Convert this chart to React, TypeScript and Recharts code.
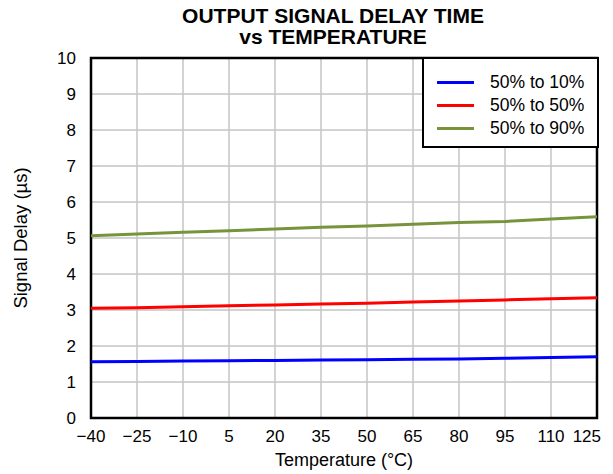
import { LineChart, Line, XAxis, YAxis, CartesianGrid, ReferenceArea } from "recharts";

const temps = [-40, -25, -10, 5, 20, 35, 50, 65, 80, 95, 110, 125];
const delay10 = [1.56, 1.57, 1.58, 1.59, 1.6, 1.61, 1.62, 1.63, 1.64, 1.66, 1.68, 1.7];
const delay50 = [3.05, 3.065, 3.09, 3.12, 3.14, 3.17, 3.19, 3.22, 3.25, 3.28, 3.31, 3.34];
const delay90 = [5.065, 5.11, 5.16, 5.2, 5.25, 5.3, 5.33, 5.38, 5.43, 5.46, 5.53, 5.59];
const yTicks = [0, 1, 2, 3, 4, 5, 6, 7, 8, 9, 10];

const seriesInfo = [
  { key: "d10", name: "50% to 10%", color: "#0000ff" },
  { key: "d50", name: "50% to 50%", color: "#ff0000" },
  { key: "d90", name: "50% to 90%", color: "#77933c" },
];

const data = temps.map((t, i) => ({ t, d10: delay10[i], d50: delay50[i], d90: delay90[i] }));

const font = "'Liberation Sans', Arial, sans-serif";
const fmt = (v: number) => String(v).replace("-", "\u2212");

// last label is pulled in so it stays inside the picture, like the original
function XTick(props: any) {
  const { x, y, payload } = props;
  const last = payload.value === temps[temps.length - 1];
  return (
    <text
      x={last ? x + 4 : x}
      y={y}
      dy="0.71em"
      textAnchor={last ? "end" : "middle"}
      fill="#000"
      fontSize={17}
      fontFamily={font}
    >
      {fmt(payload.value)}
    </text>
  );
}

// legend drawn as a plain box over the chart, so it doesn't eat plot space
function LegendBox() {
  return (
    <div
      style={{
        position: "absolute",
        left: 422,
        top: 57,
        boxSizing: "border-box",
        width: 177,
        height: 91,
        border: "2px solid #000",
        background: "#fff",
        paddingTop: 12,
        fontSize: 17.5,
      }}
    >
      {seriesInfo.map((s) => (
        <div key={s.key} style={{ display: "flex", alignItems: "center", height: 23 }}>
          <div style={{ width: 37, height: 3, background: s.color, marginLeft: 13, marginRight: 16 }} />
          <span style={{ color: "#000" }}>{s.name}</span>
        </div>
      ))}
    </div>
  );
}

export default function App() {
  return (
    <div style={{ position: "absolute", left: 0, top: 0, width: 613, height: 474, background: "#fff", fontFamily: font }}>
      <div
        style={{
          position: "absolute",
          left: 133,
          width: 400,
          top: 5,
          textAlign: "center",
          fontWeight: "bold",
          fontSize: 21,
          lineHeight: "21px",
          color: "#000",
        }}
      >
        OUTPUT SIGNAL DELAY TIME
        <br />
        vs TEMPERATURE
      </div>
      <LineChart width={613} height={474} data={data} margin={{ top: 58, right: 16, bottom: 26, left: 61 }}>
        <CartesianGrid stroke="#a6a6a6" strokeWidth={1} vertical={false} />
        <CartesianGrid stroke="#c4c4c4" strokeWidth={1.5} horizontal={false} />
        <XAxis
          dataKey="t"
          type="number"
          domain={[-40, 125]}
          ticks={temps}
          interval={0}
          tick={<XTick />}
          tickLine={false}
          axisLine={false}
          tickMargin={6}
          height={30}
          label={{ value: "Temperature (°C)", position: "bottom", offset: 5, fill: "#000", fontSize: 18, fontFamily: font }}
        />
        <YAxis
          type="number"
          domain={[0, 10]}
          ticks={yTicks}
          interval={0}
          width={30}
          tickLine={false}
          axisLine={false}
          tickMargin={9}
          tick={{ fill: "#000", fontSize: 17, fontFamily: font }}
          label={{
            value: "Signal Delay (µs)",
            angle: -90,
            position: "center",
            dx: -56,
            fill: "#000",
            fontSize: 18.5,
            fontFamily: font,
          }}
        />
        <ReferenceArea x1={-40} x2={125} y1={0} y2={10} fill="none" stroke="#000" strokeWidth={2.5} />
        {seriesInfo.map((s) => (
          <Line
            key={s.key}
            dataKey={s.key}
            name={s.name}
            stroke={s.color}
            strokeWidth={3}
            dot={false}
            type="linear"
            isAnimationActive={false}
          />
        ))}
      </LineChart>
      <LegendBox />
    </div>
  );
}
